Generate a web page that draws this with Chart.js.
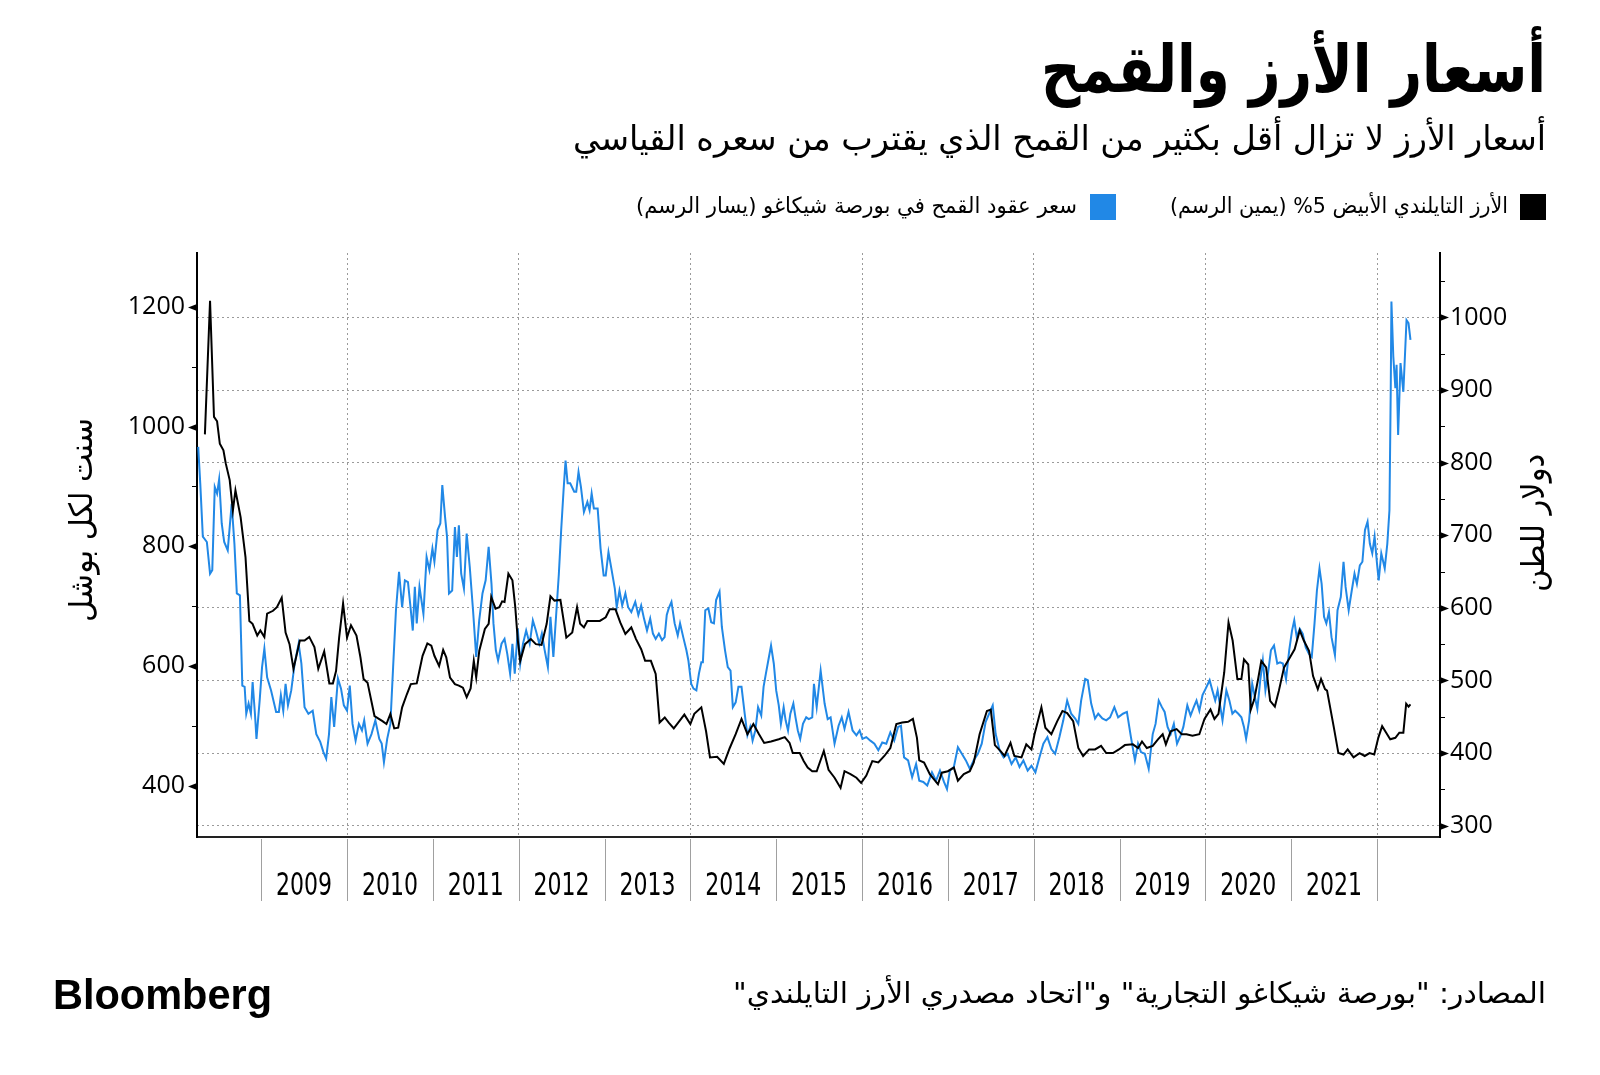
<!DOCTYPE html>
<html lang="ar">
<head>
<meta charset="utf-8">
<title>أسعار الأرز والقمح</title>
<script src="https://cdn.jsdelivr.net/npm/chart.js@4"></script>
<style>
  html, body { margin: 0; padding: 0; background: #fff; }
  #wrap { position: relative; width: 1600px; height: 1075px; }
  canvas { display: block; }
</style>
</head>
<body>
<div id="wrap"><canvas id="chart" width="1600" height="1075"></canvas></div>
<script>
/* data: decimal years, wheat in cents/bushel, rice in $/ton */
const wheatYears = [
  2008.266,2008.29,2008.32,2008.367,2008.404,2008.43,2008.459,2008.486,2008.51,2008.54,2008.569,2008.61,2008.656,2008.688,2008.716,2008.752,
  2008.78,2008.807,2008.826,2008.853,2008.88,2008.9,2008.927,2008.945,2008.982,2009.01,2009.037,2009.069,2009.115,2009.174,2009.206,2009.229,
  2009.257,2009.284,2009.312,2009.35,2009.39,2009.436,2009.468,2009.505,2009.55,2009.6,2009.642,2009.688,2009.725,2009.757,2009.79,2009.817,
  2009.85,2009.894,2009.93,2009.963,2010.0,2010.032,2010.064,2010.1,2010.138,2010.174,2010.2,2010.239,2010.285,2010.33,2010.376,2010.404,
  2010.43,2010.468,2010.505,2010.537,2010.57,2010.606,2010.642,2010.674,2010.71,2010.743,2010.766,2010.79,2010.812,2010.844,2010.89,2010.927,
  2010.96,2010.995,2011.018,2011.055,2011.087,2011.11,2011.142,2011.165,2011.188,2011.225,2011.257,2011.28,2011.303,2011.33,2011.362,2011.394,
  2011.43,2011.468,2011.505,2011.54,2011.578,2011.615,2011.65,2011.683,2011.706,2011.734,2011.76,2011.8,2011.835,2011.867,2011.9,2011.927,
  2011.954,2011.99,2012.018,2012.05,2012.087,2012.128,2012.165,2012.2,2012.24,2012.27,2012.303,2012.34,2012.37,2012.404,2012.44,2012.468,
  2012.495,2012.523,2012.546,2012.57,2012.6,2012.647,2012.67,2012.697,2012.725,2012.76,2012.8,2012.826,2012.85,2012.876,2012.92,2012.954,
  2012.99,2013.014,2013.046,2013.083,2013.12,2013.142,2013.174,2013.206,2013.243,2013.275,2013.312,2013.358,2013.394,2013.427,2013.46,2013.495,
  2013.532,2013.564,2013.596,2013.633,2013.67,2013.7,2013.725,2013.748,2013.78,2013.817,2013.853,2013.88,2013.917,2013.954,2013.977,2014.01,
  2014.037,2014.07,2014.1,2014.128,2014.146,2014.174,2014.21,2014.243,2014.275,2014.3,2014.34,2014.367,2014.404,2014.436,2014.468,2014.495,
  2014.528,2014.56,2014.596,2014.633,2014.665,2014.697,2014.725,2014.757,2014.789,2014.826,2014.853,2014.88,2014.908,2014.94,2014.972,2015.0,
  2015.03,2015.055,2015.087,2015.11,2015.138,2015.165,2015.2,2015.225,2015.252,2015.28,2015.312,2015.35,2015.38,2015.42,2015.44,2015.472,
  2015.518,2015.564,2015.6,2015.634,2015.68,2015.727,2015.764,2015.796,2015.843,2015.89,2015.935,2015.972,2016.005,2016.05,2016.097,2016.144,
  2016.19,2016.236,2016.283,2016.33,2016.375,2016.42,2016.454,2016.49,2016.537,2016.584,2016.63,2016.667,2016.714,2016.76,2016.815,2016.862,
  2016.908,2016.955,2016.99,2017.024,2017.07,2017.117,2017.163,2017.21,2017.256,2017.3,2017.35,2017.395,2017.44,2017.49,2017.523,2017.557,
  2017.603,2017.65,2017.696,2017.742,2017.79,2017.835,2017.88,2017.93,2017.974,2018.02,2018.067,2018.113,2018.16,2018.206,2018.25,2018.3,
  2018.345,2018.39,2018.437,2018.484,2018.52,2018.553,2018.6,2018.63,2018.67,2018.715,2018.752,2018.8,2018.845,2018.89,2018.94,2018.984,
  2019.04,2019.086,2019.133,2019.18,2019.216,2019.25,2019.295,2019.34,2019.387,2019.42,2019.457,2019.494,2019.526,2019.56,2019.596,2019.633,
  2019.67,2019.712,2019.744,2019.79,2019.828,2019.865,2019.897,2019.93,2019.967,2020.004,2020.05,2020.082,2020.115,2020.143,2020.175,2020.2,
  2020.245,2020.28,2020.315,2020.347,2020.384,2020.42,2020.45,2020.475,2020.51,2020.546,2020.57,2020.606,2020.64,2020.67,2020.7,2020.73,
  2020.764,2020.8,2020.838,2020.87,2020.903,2020.94,2020.977,2021.01,2021.036,2021.065,2021.1,2021.134,2021.17,2021.208,2021.24,2021.272,
  2021.3,2021.33,2021.355,2021.383,2021.41,2021.44,2021.47,2021.51,2021.54,2021.578,2021.61,2021.634,2021.67,2021.706,2021.738,2021.766,
  2021.8,2021.83,2021.86,2021.89,2021.917,2021.945,2021.972,2022.0,2022.02,2022.05,2022.09,2022.12,2022.145,2022.16,2022.168,2022.19,
  2022.214,2022.228,2022.246,2022.274,2022.307,2022.344,2022.367,2022.39
];
const wheatCents = [
  966,905,816,807,754,760,899,888,912,838,807,793,871,804,721,718,
  567,565,520,537,520,573,520,478,542,598,629,581,559,523,523,551,
  525,570,534,559,604,637,604,531,520,525,486,473,456,445,486,548,
  498,579,562,534,525,567,503,475,503,492,509,470,486,509,478,470,
  439,478,503,598,693,757,698,743,740,693,659,732,671,732,687,782,
  760,796,774,827,838,902,849,816,721,726,832,782,835,754,729,821,
  765,693,615,676,721,743,799,737,671,626,609,637,645,620,587,637,
  587,662,604,637,659,637,676,659,637,654,626,598,682,615,693,754,
  827,894,943,905,905,891,891,924,899,857,874,860,888,863,863,796,
  751,751,790,760,729,698,726,701,721,698,690,707,685,701,679,659,
  679,654,645,654,643,648,685,696,707,671,651,671,648,626,609,570,
  562,559,587,606,606,693,696,673,671,710,724,665,626,598,592,531,
  539,565,565,520,484,498,475,492,531,517,565,587,609,634,604,559,
  534,503,531,509,492,520,537,514,492,478,503,514,511,514,570,531,
  592,537,511,514,470,500,514,495,523,492,484,492,478,481,475,470,
  459,472,470,489,475,498,500,447,442,414,436,408,406,400,422,408,
  425,406,394,425,431,464,453,442,428,442,453,470,506,523,534,486,
  459,447,453,436,447,431,442,425,433,422,447,470,481,461,453,481,
  509,542,520,512,503,542,578,576,537,512,520,512,509,514,531,514,
  520,523,481,442,470,456,453,428,486,503,542,531,523,498,486,503,
  470,484,498,534,517,531,542,525,551,562,576,559,542,559,531,509,
  559,542,520,525,520,514,498,478,509,570,553,528,576,609,559,587,
  626,634,604,606,604,578,626,659,676,648,662,654,631,620,615,671,
  726,763,737,682,671,690,648,618,693,715,774,732,693,726,754,737,
  768,774,827,841,804,788,816,771,743,788,763,804,860,1061,1209,1117,
  1064,1103,986,1106,1058,1178,1173,1145
];
const riceYears = [
  2008.344,2008.404,2008.45,2008.486,2008.518,2008.56,2008.587,2008.633,2008.67,2008.70,2008.76,2008.817,2008.862,2008.899,2008.954,2008.99,
  2009.037,2009.069,2009.138,2009.183,2009.239,2009.284,2009.33,2009.376,2009.45,2009.505,2009.56,2009.62,2009.665,2009.734,2009.794,2009.835,
  2009.872,2009.908,2009.954,2010.0,2010.046,2010.11,2010.156,2010.193,2010.239,2010.32,2010.413,2010.459,2010.505,2010.55,2010.596,2010.642,
  2010.697,2010.743,2010.812,2010.88,2010.936,2010.982,2011.018,2011.073,2011.12,2011.156,2011.2,2011.257,2011.303,2011.35,2011.394,2011.44,
  2011.477,2011.505,2011.541,2011.606,2011.65,2011.68,2011.73,2011.775,2011.807,2011.835,2011.88,2011.927,2011.96,2011.99,2012.018,2012.073,
  2012.142,2012.2,2012.266,2012.326,2012.37,2012.417,2012.486,2012.555,2012.624,2012.68,2012.716,2012.76,2012.8,2012.853,2012.945,2013.014,
  2013.06,2013.128,2013.183,2013.243,2013.312,2013.367,2013.427,2013.473,2013.54,2013.596,2013.642,2013.702,2013.748,2013.807,2013.872,2013.93,
  2014.0,2014.046,2014.128,2014.183,2014.229,2014.312,2014.39,2014.459,2014.528,2014.596,2014.665,2014.734,2014.8,2014.86,2014.94,2015.03,
  2015.1,2015.156,2015.193,2015.275,2015.32,2015.367,2015.42,2015.472,2015.555,2015.61,2015.68,2015.75,2015.796,2015.866,2015.935,2015.99,
  2016.05,2016.12,2016.19,2016.26,2016.33,2016.4,2016.468,2016.537,2016.593,2016.64,2016.667,2016.723,2016.79,2016.885,2016.93,2017.0,
  2017.07,2017.117,2017.186,2017.256,2017.302,2017.37,2017.455,2017.5,2017.548,2017.612,2017.66,2017.73,2017.775,2017.858,2017.914,2017.974,
  2018.01,2018.09,2018.136,2018.206,2018.275,2018.335,2018.39,2018.46,2018.52,2018.576,2018.646,2018.715,2018.785,2018.845,2018.924,2018.993,
  2019.063,2019.156,2019.216,2019.262,2019.318,2019.387,2019.448,2019.503,2019.54,2019.596,2019.665,2019.726,2019.78,2019.85,2019.93,2019.99,
  2020.06,2020.106,2020.153,2020.22,2020.27,2020.318,2020.373,2020.42,2020.45,2020.5,2020.53,2020.57,2020.615,2020.652,2020.708,2020.755,
  2020.81,2020.857,2020.917,2020.987,2021.04,2021.1,2021.147,2021.208,2021.255,2021.31,2021.348,2021.394,2021.418,2021.496,2021.55,2021.61,
  2021.658,2021.727,2021.797,2021.857,2021.913,2021.968,2022.015,2022.06,2022.107,2022.154,2022.214,2022.26,2022.307,2022.34,2022.368,2022.39
];
const riceUsd = [
  839,1023,863,857,826,817,799,776,734,762,725,670,582,578,562,569,
  560,592,596,601,614,566,550,516,555,555,560,546,516,540,496,496,
  513,559,606,559,576,562,532,502,497,451,444,440,454,434,435,463,
  481,495,496,534,551,548,534,520,542,532,504,495,493,490,477,489,
  527,504,541,571,578,615,599,601,609,608,647,638,601,555,527,550,
  557,550,549,578,616,610,611,559,566,601,578,573,582,582,582,587,
  598,598,580,564,573,557,543,527,527,509,442,449,442,434,444,453,
  440,454,463,430,394,395,385,407,426,447,426,440,426,414,416,419,
  422,414,400,400,389,380,375,375,403,377,366,352,375,371,366,359,
  369,389,387,396,407,440,442,443,447,421,390,387,371,357,373,375,
  380,362,371,375,387,426,458,460,411,403,396,414,396,394,412,405,
  426,463,435,426,444,458,455,444,407,396,405,405,410,400,400,405,
  411,412,407,416,407,410,419,426,412,430,433,426,426,424,426,447,
  460,447,454,511,580,555,502,502,529,522,460,474,502,527,518,472,
  464,486,518,532,543,569,555,541,506,488,502,488,486,436,400,398,
  405,394,400,396,400,398,421,437,428,419,421,428,428,468,464,467
];
const yearLabels = ["2009","2010","2011","2012","2013","2014","2015","2016","2017","2018","2019","2020","2021"];
const firstYear = 2009;
const leftTicks = [400,500,600,700,800,900,1000,1100,1200];
const rightTicks = [300,350,400,450,500,550,600,650,700,750,800,850,900,950,1000,1050];
const yearTicks = [2009,2010,2011,2012,2013,2014,2015,2016,2017,2018,2019,2020,2021,2022];

const titleText = "أسعار الأرز والقمح";
const subtitleText = "أسعار الأرز لا تزال أقل بكثير من القمح الذي يقترب من سعره القياسي";
const riceLabel = "الأرز التايلندي الأبيض 5% (يمين الرسم)";
const wheatLabel = "سعر عقود القمح في بورصة شيكاغو (يسار الرسم)";
const leftTitle = "سنت لكل بوشل";
const rightTitle = "دولار للطن";
const sourceText = "المصادر: \"بورصة شيكاغو التجارية\" و\"اتحاد مصدري الأرز التايلندي\"";

const BLUE = "#2188e6";
const ARABIC = "'DejaVu Sans Condensed', 'DejaVu Sans', sans-serif";

/* helpers */
function drawFit(ctx, str, x, y, font, width, align, rtl){
  ctx.save();
  ctx.font = font;
  ctx.direction = rtl ? "rtl" : "ltr";
  ctx.textAlign = align;
  ctx.textBaseline = "middle";
  const w = ctx.measureText(str).width;
  ctx.translate(x, y);
  ctx.scale(width / w, 1);
  ctx.fillText(str, 0, 0);
  ctx.restore();
}

function drawVertical(ctx, str, cx, cy, font, len){
  ctx.save();
  ctx.font = font;
  ctx.direction = "rtl";
  ctx.textAlign = "center";
  ctx.textBaseline = "middle";
  const w = ctx.measureText(str).width;
  ctx.translate(cx, cy);
  ctx.rotate(-Math.PI / 2);
  ctx.scale(len / w, 1);
  ctx.fillText(str, 0, 0);
  ctx.restore();
}

const decor = {
  id: "decor",
  afterDraw(chart){
    const ctx = chart.ctx;
    const area = chart.chartArea;
    const x = chart.scales.x, yL = chart.scales.yL, yR = chart.scales.yR;
    ctx.save();
    ctx.fillStyle = "#000";
    ctx.strokeStyle = "#000";
    ctx.lineWidth = 1;

    // left axis: arrow ticks every 200, plain ticks between
    leftTicks.forEach(v => {
      const py = Math.round(yL.getPixelForValue(v)) + 0.5;
      if(v % 200 === 0){
        ctx.beginPath();
        ctx.moveTo(area.left - 9, py);
        ctx.lineTo(area.left, py - 3.5);
        ctx.lineTo(area.left, py + 3.5);
        ctx.closePath();
        ctx.fill();
      } else {
        ctx.beginPath();
        ctx.moveTo(area.left - 5, py);
        ctx.lineTo(area.left, py);
        ctx.stroke();
      }
    });
    // right axis: arrow ticks every 100, plain ticks on the 50s
    rightTicks.forEach(v => {
      const py = Math.round(yR.getPixelForValue(v)) + 0.5;
      if(v % 100 === 0){
        ctx.beginPath();
        ctx.moveTo(area.right + 9, py);
        ctx.lineTo(area.right, py - 3.5);
        ctx.lineTo(area.right, py + 3.5);
        ctx.closePath();
        ctx.fill();
      } else {
        ctx.beginPath();
        ctx.moveTo(area.right, py);
        ctx.lineTo(area.right + 5, py);
        ctx.stroke();
      }
    });

    // year separators and labels under the axis
    ctx.strokeStyle = "#a0a0a0";
    yearTicks.forEach(t => {
      const px = Math.round(x.getPixelForValue(t)) + 0.5;
      ctx.beginPath();
      ctx.moveTo(px, area.bottom + 2);
      ctx.lineTo(px, 901);
      ctx.stroke();
    });
    ctx.fillStyle = "#000";
    yearLabels.forEach((lab, i) => {
      const px = x.getPixelForValue(firstYear + i + 0.5);
      drawFit(ctx, lab, px, 887, "32px 'Liberation Sans Narrow', 'DejaVu Sans Condensed', sans-serif", 56, "center", false);
    });

    // axis titles
    drawVertical(ctx, leftTitle, 84, 520, "32px " + ARABIC, 204);
    drawVertical(ctx, rightTitle, 1536, 523, "32px " + ARABIC, 138);

    // heading
    drawFit(ctx, titleText, 1546, 75, "bold 66px " + ARABIC, 505, "right", true);
    drawFit(ctx, subtitleText, 1546, 141, "34px " + ARABIC, 973, "right", true);

    // legend
    ctx.fillStyle = "#000";
    ctx.fillRect(1520, 194, 26, 26);
    ctx.fillStyle = BLUE;
    ctx.fillRect(1090, 194, 26, 26);
    ctx.fillStyle = "#000";
    drawFit(ctx, riceLabel, 1508, 207, "22px " + ARABIC, 338, "right", true);
    drawFit(ctx, wheatLabel, 1077, 207, "22px " + ARABIC, 441, "right", true);

    // footer
    drawFit(ctx, sourceText, 1546, 995, "29px " + ARABIC, 813, "right", true);
    drawFit(ctx, "Bloomberg", 53, 997, "bold 42px 'Liberation Sans', Arial, sans-serif", 219, "left", false);
    ctx.restore();
  }
};

const tickFont = { family: "'Open Sans', sans-serif", size: 25 };
const dotted = [2, 3];

new Chart(document.getElementById("chart"), {
  type: "line",
  data: {
    datasets: [
      {
        label: riceLabel,
        data: riceYears.map((t, i) => ({ x: t, y: riceUsd[i] })),
        yAxisID: "yR",
        borderColor: "#000",
        borderWidth: 2,
        pointRadius: 0,
        tension: 0
      },
      {
        label: wheatLabel,
        data: wheatYears.map((t, i) => ({ x: t, y: wheatCents[i] })),
        yAxisID: "yL",
        borderColor: BLUE,
        borderWidth: 2,
        pointRadius: 0,
        tension: 0
      }
    ]
  },
  options: {
    responsive: false,
    animation: false,
    devicePixelRatio: 1,
    layout: { padding: { top: 253, left: 0, right: 0, bottom: 0 } },
    plugins: { legend: { display: false }, tooltip: { enabled: false } },
    scales: {
      x: {
        type: "linear",
        min: 2008.252,
        max: 2022.734,
        afterFit(s){ s.height = 1075 - 837; },
        afterBuildTicks(s){ s.ticks = yearTicks.map(v => ({ value: v })); },
        ticks: { display: false },
        grid: {
          drawTicks: false,
          color: c => (c.tick && c.tick.value % 2 === 0) ? "#9a9a9a" : "rgba(0,0,0,0)",
          lineWidth: 1
        },
        border: { display: true, color: "#222", width: 2, dash: dotted }
      },
      yL: {
        position: "left",
        min: 314,
        max: 1290,
        afterFit(s){ s.width = 197; },
        afterBuildTicks(s){ s.ticks = leftTicks.map(v => ({ value: v })); },
        ticks: {
          font: tickFont,
          color: "#000",
          padding: 12,
          autoSkip: false,
          callback: v => (v % 200 === 0) ? String(v) : ""
        },
        grid: { display: false, drawTicks: false },
        border: { display: true, color: "#000", width: 2 }
      },
      yR: {
        position: "right",
        min: 284.4,
        max: 1088.8,
        afterFit(s){ s.width = 1600 - 1440; },
        afterBuildTicks(s){ s.ticks = rightTicks.map(v => ({ value: v })); },
        ticks: {
          font: tickFont,
          color: "#000",
          padding: 10,
          autoSkip: false,
          callback: v => (v % 100 === 0 && v <= 1000) ? String(v) : ""
        },
        grid: {
          drawTicks: false,
          color: c => (c.tick && c.tick.value % 100 === 0) ? "#9a9a9a" : "rgba(0,0,0,0)",
          lineWidth: 1
        },
        border: { display: true, color: "#000", width: 2, dash: dotted }
      }
    }
  },
  plugins: [decor]
});
</script>
</body>
</html>
